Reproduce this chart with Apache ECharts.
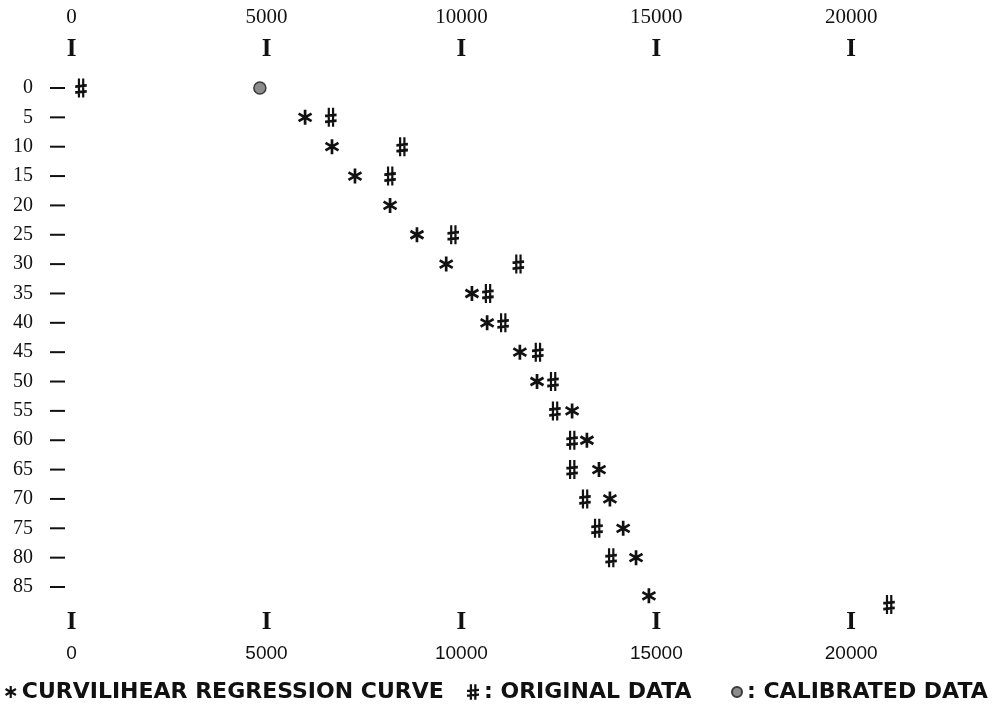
<!DOCTYPE html>
<html><head><meta charset="utf-8">
<script src="https://cdn.jsdelivr.net/npm/echarts@6/dist/echarts.min.js"></script>
<style>html,body{margin:0;padding:0;background:#fff}#c{width:999px;height:706px}</style>
</head><body><div id="c"></div>
<script>
// ---- data ----
const xTicks = [0, 5000, 10000, 15000, 20000];
const depthTicks = [0, 5, 10, 15, 20, 25, 30, 35, 40, 45, 50, 55, 60, 65, 70, 75, 80, 85];

const curveDepth = [5, 10, 15, 20, 25, 30, 35, 40, 45, 50, 55, 60, 65, 70, 75, 80, 86.5];
const curveValue = [5990, 6680, 7270, 8170, 8860, 9610, 10270, 10660, 11500, 11940, 12840, 13220, 13530, 13810, 14150, 14480, 14810];

const origDepth = [0, 5, 10, 15, 25, 30, 35, 40, 45, 50, 55, 60, 65, 70, 75, 80, 88];
const origValue = [240, 6650, 8480, 8170, 9790, 11460, 10680, 11070, 11960, 12350, 12400, 12840, 12840, 13170, 13480, 13840, 20970];

const calDepth = [0];
const calValue = [4830];

const names = ['CURVILIHEAR REGRESSION CURVE', 'ORIGINAL DATA', 'CALIBRATED DATA'];

// ---- glyph-like symbols ----
function asteriskPath() {
  const L = 5, h = 0.9;
  let p = '';
  [90, 30, 150].forEach(a => {
    const r = a * Math.PI / 180;
    const dx = Math.cos(r), dy = Math.sin(r), px = -dy, py = dx;
    const pts = [
      [L * dx + h * px, L * dy + h * py],
      [L * dx - h * px, L * dy - h * py],
      [-L * dx - h * px, -L * dy - h * py],
      [-L * dx + h * px, -L * dy + h * py]
    ];
    p += 'M' + pts.map(q => q[0].toFixed(3) + ' ' + q[1].toFixed(3)).join(' L') + ' Z ';
  });
  return 'path://' + p;
}
const hashPath = 'path://M2.3 0 L4.2 0 L4.2 13 L2.3 13 Z M6.0 0 L7.9 0 L7.9 13 L6.0 13 Z ' +
  'M0 4.6 L10 3.8 L10 5.7 L0 6.5 Z M0 8.6 L10 7.8 L10 9.7 L0 10.5 Z';
const starPath = asteriskPath();

const zip = (xs, ys) => xs.map((v, i) => [v, ys[i]]);

const serif = "'Liberation Serif', 'DejaVu Serif', serif";
const sans = "'Liberation Sans', Arial, sans-serif";
const wide = "'DejaVu Sans', sans-serif";
const ink = '#111111';

function xAxisCfg(pos, margin, fmt, font, size, weight) {
  return {
    type: 'value', position: pos, min: xTicks[0], max: xTicks[xTicks.length - 1], interval: 5000,
    axisLine: { show: false }, axisTick: { show: false }, splitLine: { show: false },
    axisLabel: {
      show: true, margin: margin, verticalAlign: 'middle', formatter: fmt,
      fontFamily: font, fontSize: size, fontWeight: weight || 'normal', color: ink
    }
  };
}

const legendText = { fontFamily: wide, fontSize: 22, fontWeight: 'bold', color: ink };

const chart = echarts.init(document.getElementById('c'), null, { renderer: 'canvas' });
chart.setOption({
  animation: false,
  backgroundColor: '#ffffff',
  grid: { left: 71.6, top: 88, width: 779.6, height: 499, containLabel: false },
  xAxis: [
    xAxisCfg('top', 71, v => String(v), serif, 21),
    xAxisCfg('top', 38, () => 'I', serif, 25, 'bold'),
    xAxisCfg('bottom', 36, () => 'I', serif, 25, 'bold'),
    xAxisCfg('bottom', 67, v => String(v), sans, 19)
  ],
  yAxis: {
    type: 'value', inverse: true, min: depthTicks[0], max: depthTicks[depthTicks.length - 1], interval: 5,
    axisLine: { show: false },
    axisTick: { show: false },
    splitLine: { show: false },
    axisLabel: {
      margin: 6.6,
      formatter: v => '{n|' + v + '}{d|}',
      rich: {
        n: { fontFamily: serif, fontSize: 20, color: ink, padding: [0, 17, 0, 0] },
        d: { width: 15, height: 2, backgroundColor: ink }
      }
    }
  },
  legend: [
    { data: [names[0]], left: 0, top: 676, itemWidth: 12, itemHeight: 12, itemGap: 0, selectedMode: false,
      textStyle: legendText },
    { data: [names[1]], left: 462, top: 676, itemWidth: 12, itemHeight: 16, itemGap: 0, selectedMode: false,
      formatter: n => ': ' + n, textStyle: legendText },
    { data: [names[2]], left: 726, top: 676, itemWidth: 10, itemHeight: 10, itemGap: 0, selectedMode: false,
      formatter: n => ': ' + n, textStyle: legendText }
  ],
  series: [
    {
      name: names[0], type: 'scatter', clip: false, xAxisIndex: 0,
      symbol: starPath, symbolSize: 15, symbolKeepAspect: true,
      itemStyle: { color: ink, opacity: 1 },
      data: zip(curveValue, curveDepth)
    },
    {
      name: names[1], type: 'scatter', clip: false, xAxisIndex: 0,
      symbol: hashPath, symbolSize: [15, 19], symbolKeepAspect: true,
      itemStyle: { color: ink, opacity: 1 },
      data: zip(origValue, origDepth)
    },
    {
      name: names[2], type: 'scatter', clip: false, xAxisIndex: 0,
      symbol: 'circle', symbolSize: 12,
      itemStyle: { color: '#8c8c8c', borderColor: '#3a3a3a', borderWidth: 1.5, opacity: 1 },
      data: zip(calValue, calDepth)
    }
  ]
});
</script>
</body></html>
